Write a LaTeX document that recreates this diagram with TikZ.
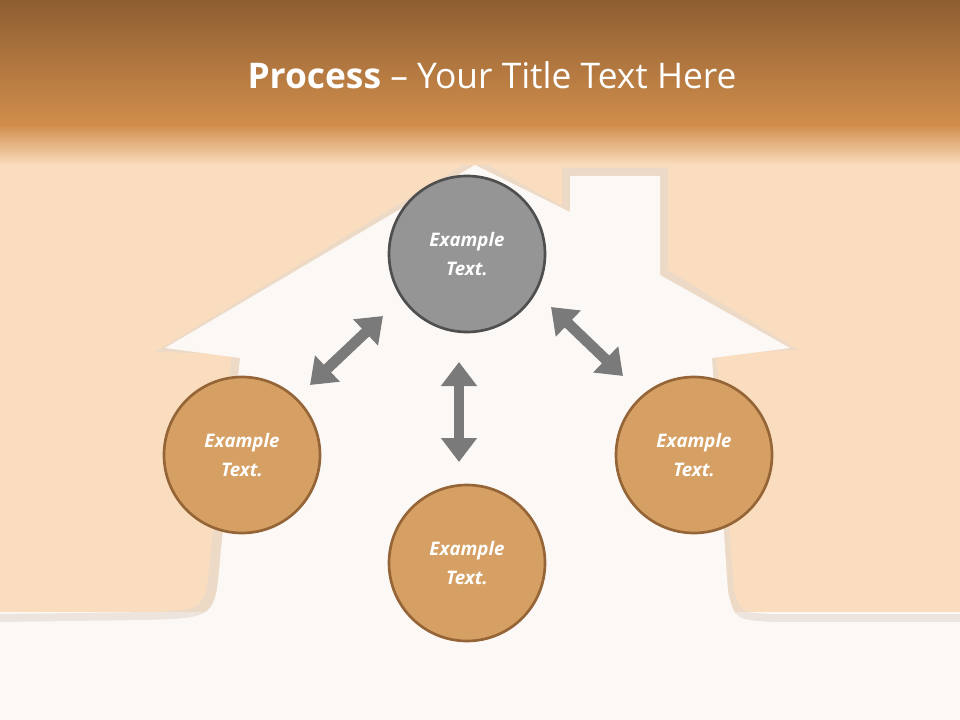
\documentclass[tikz,border=0pt]{standalone}
\usepackage{fontspec}
\setmainfont{Open Sans}
\usetikzlibrary{arrows.meta}
\definecolor{peach}{HTML}{FADDBF}
\definecolor{hdrtop}{HTML}{8E5E32}
\definecolor{hdrbot}{HTML}{D18E4C}
\definecolor{orangefill}{HTML}{D6A064}
\definecolor{orangeedge}{HTML}{956537}
\definecolor{grayfill}{HTML}{959595}
\definecolor{grayedge}{HTML}{4F4F4F}
\definecolor{arrowgray}{HTML}{7A7A7A}
\definecolor{housewhite}{HTML}{FCF8F5}
\tikzset{
  bubble/.style={circle, minimum size=156*0.75pt, line width=2pt, text=white,
    font=\fontsize{14}{22}\selectfont\bfseries\itshape, align=center, inner sep=0pt},
  obub/.style={bubble, fill=orangefill, draw=orangeedge},
  gbub/.style={bubble, fill=grayfill, draw=grayedge},
  dbl/.style={draw=arrowgray, line width=8pt, {Triangle[length=18pt,width=26pt]}-{Triangle[length=18pt,width=26pt]}}
}
\begin{document}
\begin{tikzpicture}[x=0.75pt,y=-0.75pt]
\useasboundingbox (0,0) rectangle (960,720);
\fill[peach] (0,0) rectangle (960,720);
\fill[housewhite] (0,612) rectangle (960,720);
\fill[orangeedge!25, opacity=0.6] (155,352) -- (475,158) -- (562,206) -- (562,168) -- (668,168) -- (668,270) -- (798,350)
  -- (716,354) -- (734,590) .. controls (740,612) .. (770,614) -- (960,614) -- (960,640) -- (0,640) -- (0,614) -- (150,612)
  .. controls (205,610) .. (210,560) -- (232,354) -- cycle;
\fill[housewhite] (165,348) -- (475,165) -- (570,212) -- (570,176) -- (660,176) -- (660,275) -- (790,348)
  -- (712,358) -- (728,592) .. controls (735,620) .. (775,622) -- (960,622) -- (960,720) -- (0,720) -- (0,622) -- (145,620)
  .. controls (215,618) .. (220,560) -- (240,358) -- cycle;
\shade[top color=hdrtop, bottom color=hdrbot] (0,0) rectangle (960,125);
\shade[top color=hdrbot, bottom color=peach] (0,125) rectangle (960,165);
\node[text=white, font=\fontsize{26.5}{30}\selectfont] (title) at (492,75) {\textbf{Process} – Your Title Text Here};
\node[gbub] (top) at (467,254) {Example\\Text.};
\node[obub] (left) at (242,455) {Example\\Text.};
\node[obub] (bottom) at (467,563) {Example\\Text.};
\node[obub] (right) at (694,455) {Example\\Text.};
\coordinate (a1) at (310,385); \coordinate (a2) at (383,316);
\coordinate (b1) at (551,307); \coordinate (b2) at (623,376);
\coordinate (c1) at (459,362); \coordinate (c2) at (459,462);
\draw[dbl] (a1) -- (a2);
\draw[dbl] (b1) -- (b2);
\draw[dbl] (c1) -- (c2);
\end{tikzpicture}
\end{document}
